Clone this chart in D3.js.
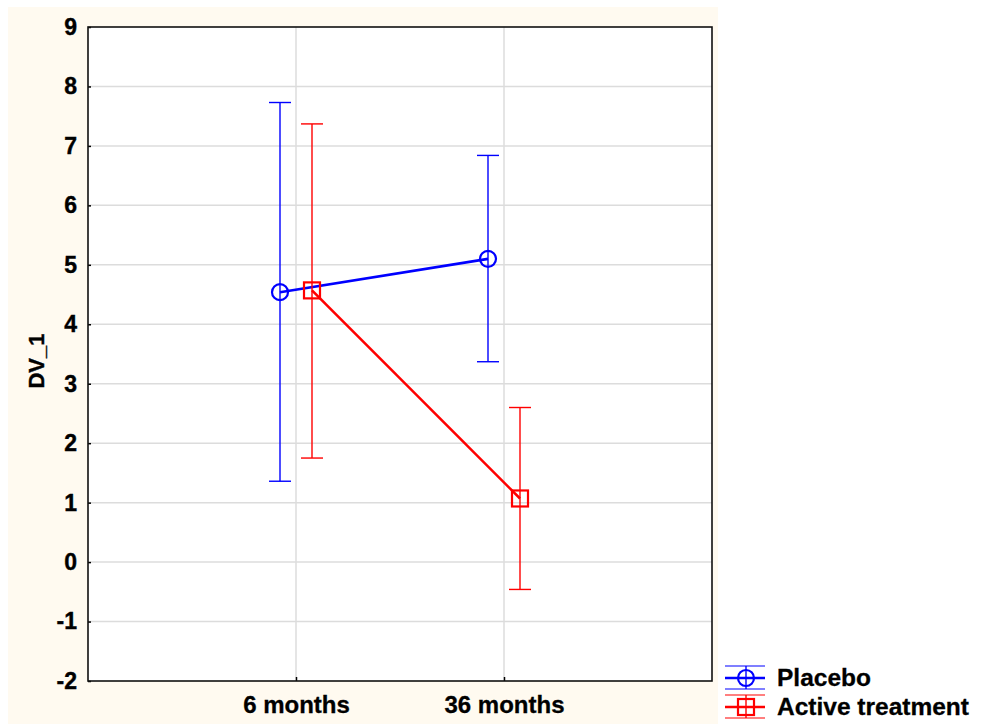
<!DOCTYPE html>
<html><head><meta charset="utf-8">
<script src="https://cdn.jsdelivr.net/npm/d3@7"></script>
<style>body{margin:0;background:#fff;}svg{display:block;}</style>
</head><body>
<script>
const categories = ["6 months", "36 months"];
const seriesNames = ["Placebo", "Active treatment"];
const placeboMean = [4.54, 5.10];
const placeboLow = [1.36, 3.37];
const placeboHigh = [7.73, 6.84];
const activeMean = [4.57, 1.07];
const activeLow = [1.75, -0.46];
const activeHigh = [7.37, 2.60];
const yTicks = [-2, -1, 0, 1, 2, 3, 4, 5, 6, 7, 8, 9];

const W = 984, H = 724;
const svg = d3.select("body").append("svg").attr("width", W).attr("height", H);
svg.append("rect").attr("x", 8).attr("y", 7).attr("width", 710).attr("height", 717).attr("fill", "#fffaf0");

const L = 88, T = 27, R = 712, B = 681;
svg.append("rect").attr("x", L).attr("y", T).attr("width", R - L).attr("height", B - T).attr("fill", "#fff");

const y = d3.scaleLinear().domain([-2, 9]).range([B, T]);
const x = d3.scalePoint().domain(["", ...categories, " "]).range([L, R]);

const font = "'Liberation Sans', Arial, sans-serif";
const g = svg.append("g");
g.selectAll(".hg").data(yTicks.slice(1, -1)).join("line")
  .attr("x1", L).attr("x2", R).attr("y1", d => y(d)).attr("y2", d => y(d))
  .attr("stroke", "#dcdcdc").attr("stroke-width", 1.5);
g.selectAll(".vg").data(categories).join("line")
  .attr("x1", d => x(d)).attr("x2", d => x(d)).attr("y1", T).attr("y2", B)
  .attr("stroke", "#dcdcdc").attr("stroke-width", 1.5);

const yAxis = svg.append("g").attr("transform", `translate(${L},0)`)
  .call(d3.axisLeft(y).tickValues(yTicks).tickFormat(d => String(d)).tickSizeInner(-3).tickSizeOuter(0).tickPadding(11));
yAxis.select(".domain").remove();
yAxis.selectAll("line").attr("stroke", "#000").attr("stroke-width", 1.5);
yAxis.selectAll("text").attr("font-family", font).attr("font-weight", "bold").attr("font-size", 23).attr("fill", "#000")
  .attr("stroke", "#000").attr("stroke-width", 0.4);

const xAxis = svg.append("g").attr("transform", `translate(0,${B})`)
  .call(d3.axisBottom(x).tickValues(categories).tickSizeInner(-4).tickSizeOuter(0).tickPadding(12));
xAxis.select(".domain").remove();
xAxis.selectAll("line").attr("stroke", "#000").attr("stroke-width", 1.5);
xAxis.selectAll("text").attr("font-family", font).attr("font-weight", "bold").attr("font-size", 24).attr("fill", "#000").attr("dy", "0.82em")
  .attr("stroke", "#000").attr("stroke-width", 0.3);

svg.append("rect").attr("x", L).attr("y", T).attr("width", R - L).attr("height", B - T)
  .attr("fill", "none").attr("stroke", "#111").attr("stroke-width", 1.6);

svg.append("text").attr("transform", `translate(44,361) rotate(-90)`)
  .attr("text-anchor", "middle").attr("font-family", font).attr("font-weight", "bold").attr("font-size", 22)
  .attr("stroke", "#000").attr("stroke-width", 0.4).text("DV_1");

const series = [
  {name: seriesNames[0], mean: placeboMean, lo: placeboLow, hi: placeboHigh, color: "#0000ff", off: -16, shape: "circle"},
  {name: seriesNames[1], mean: activeMean, lo: activeLow, hi: activeHigh, color: "#ff0000", off: 16, shape: "square"}
];
const cap = 11;
series.forEach(s => {
  const sg = svg.append("g");
  const pts = categories.map((c, i) => ({x: x(c) + s.off, m: s.mean[i], lo: s.lo[i], hi: s.hi[i]}));
  pts.forEach(p => {
    sg.append("line").attr("x1", p.x).attr("x2", p.x).attr("y1", y(p.hi)).attr("y2", y(p.lo)).attr("stroke", s.color).attr("stroke-width", 1.4);
    [p.hi, p.lo].forEach(v => sg.append("line").attr("x1", p.x - cap).attr("x2", p.x + cap).attr("y1", y(v)).attr("y2", y(v)).attr("stroke", s.color).attr("stroke-width", 1.4));
  });
  sg.append("path").attr("d", d3.line().x(p => p.x).y(p => y(p.m))(pts)).attr("fill", "none").attr("stroke", s.color).attr("stroke-width", 2.6);
  pts.forEach(p => {
    if (s.shape === "circle") sg.append("circle").attr("cx", p.x).attr("cy", y(p.m)).attr("r", 8).attr("fill", "none").attr("stroke", s.color).attr("stroke-width", 2.2);
    else sg.append("rect").attr("x", p.x - 8).attr("y", y(p.m) - 8).attr("width", 16).attr("height", 16).attr("fill", "none").attr("stroke", s.color).attr("stroke-width", 2.2);
  });
});

series.forEach((s, i) => {
  const cy = 678 + i * 29, lx0 = 725, lx1 = 765, cx = 746;
  const lg = svg.append("g");
  lg.append("line").attr("x1", lx0).attr("x2", lx1).attr("y1", cy - 12).attr("y2", cy - 12).attr("stroke", s.color).attr("stroke-width", 1.2);
  lg.append("line").attr("x1", lx0).attr("x2", lx1).attr("y1", cy + 11).attr("y2", cy + 11).attr("stroke", s.color).attr("stroke-width", 1.2);
  lg.append("line").attr("x1", lx0).attr("x2", lx1).attr("y1", cy).attr("y2", cy).attr("stroke", s.color).attr("stroke-width", 2.6);
  lg.append("line").attr("x1", cx).attr("x2", cx).attr("y1", cy - 12).attr("y2", cy + 11).attr("stroke", s.color).attr("stroke-width", 1.4);
  if (s.shape === "circle") lg.append("circle").attr("cx", cx).attr("cy", cy).attr("r", 8).attr("fill", "none").attr("stroke", s.color).attr("stroke-width", 2.2);
  else lg.append("rect").attr("x", cx - 8).attr("y", cy - 8).attr("width", 16).attr("height", 16).attr("fill", "none").attr("stroke", s.color).attr("stroke-width", 2.2);
  lg.append("text").attr("x", 777).attr("y", cy + 8).attr("font-family", font).attr("font-weight", "bold").attr("font-size", 24.5)
    .attr("stroke", "#000").attr("stroke-width", 0.3).text(s.name);
});
</script>
</body></html>
